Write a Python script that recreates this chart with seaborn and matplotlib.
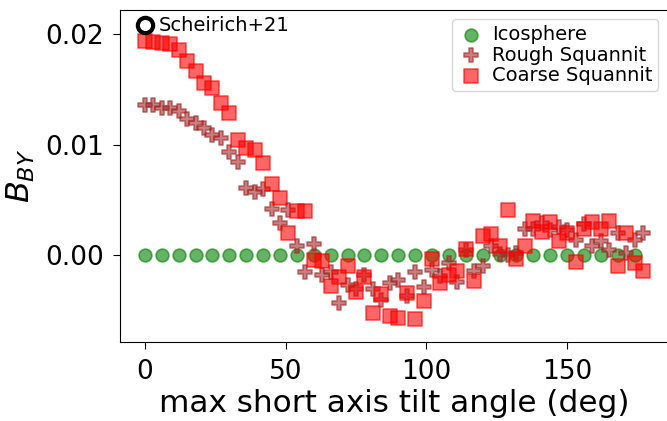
import numpy as np
import pandas as pd
import matplotlib
matplotlib.use("Agg")
import matplotlib.pyplot as plt
import seaborn as sns

# ---- data ----
ico_angle = list(range(0, 175, 6))
ico_b = [0.0] * len(ico_angle)

sq_angle = list(range(0, 178, 3))
rough_b = [0.0136, 0.0136, 0.0133, 0.0133, 0.0130, 0.0123, 0.0120, 0.0115, 0.0109, 0.0106,
           0.0093, 0.0084, 0.0061, 0.0057, 0.0060, 0.0042, 0.0029, 0.0041, 0.0008, -0.0015,
           0.0010, -0.0018, -0.0015, -0.0043, -0.0027, -0.0030, -0.0018, -0.0030, -0.0040, -0.0025,
           -0.0022, -0.0037, -0.0015, -0.0029, -0.0013, -0.0019, -0.0007, -0.0024, 0.0005, -0.0014,
           -0.0010, 0.0008, 0.0001, 0.0000, 0.0002, 0.0024, 0.0024, 0.0029, 0.0023, 0.0026,
           0.0023, 0.0014, 0.0028, 0.0008, 0.0013, 0.0005, 0.0020, 0.0002, 0.0014, 0.0020]
coarse_b = [0.0194, 0.0193, 0.0192, 0.0191, 0.0186, 0.0176, 0.0167, 0.0156, 0.0151, 0.0138,
            0.0129, 0.0104, 0.0097, 0.0095, 0.0083, 0.0064, 0.0052, 0.0020, 0.0040, 0.0040,
            -0.0004, -0.0005, -0.0028, -0.0020, -0.0010, -0.0033, -0.0020, -0.0052, -0.0035, -0.0055,
            -0.0057, -0.0034, -0.0058, -0.0041, -0.0003, -0.0025, -0.0018, -0.0014, 0.0006, -0.0023,
            0.0017, 0.0019, 0.0008, 0.0041, -0.0003, 0.0008, 0.0031, 0.0021, 0.0030, 0.0013,
            0.0020, -0.0006, 0.0024, 0.0030, 0.0024, 0.0031, -0.0010, 0.0020, -0.0007, -0.0014]

ref_angle = [0]
ref_b = [0.0208]
ref_label = "Scheirich+21"

series_labels = ["Icosphere", "Rough Squannit", "Coarse Squannit"]
xlabel = "max short axis tilt angle (deg)"
ylabel = "$B_{BY}$"

# ---- plot ----
fig = plt.figure(figsize=(6.67, 4.21), dpi=100)
ax = fig.add_axes([0.1799, 0.187, 0.8216, 0.79])

df_ico = pd.DataFrame({"angle": ico_angle, "B": ico_b})
df_r = pd.DataFrame({"angle": sq_angle, "B": rough_b})
df_c = pd.DataFrame({"angle": sq_angle, "B": coarse_b})

sns.scatterplot(data=df_ico, x="angle", y="B", ax=ax, marker="o", s=85,
                color="green", edgecolor="green", linewidth=1.2, alpha=0.6,
                label=series_labels[0])
sns.scatterplot(data=df_r, x="angle", y="B", ax=ax, marker="P", s=95,
                color="brown", edgecolor="brown", linewidth=1.2, alpha=0.6,
                label=series_labels[1])
sns.scatterplot(data=df_c, x="angle", y="B", ax=ax, marker="s", s=90,
                color="red", edgecolor="red", linewidth=1.2, alpha=0.6,
                label=series_labels[2])

ax.plot(ref_angle, ref_b, "o", mfc="none", mec="black", mew=3, ms=11, zorder=5)
ax.text(ref_angle[0] + 5, ref_b[0], ref_label, fontsize=14, va="center", ha="left")

ax.set_xlim(-8.85, 185.85)
ax.set_ylim(-0.00786, 0.0222)
ax.set_xticks([0, 50, 100, 150])
ax.set_yticks([0.0, 0.01, 0.02])
ax.set_yticklabels(["0.00", "0.01", "0.02"])
ax.tick_params(labelsize=19, length=4.8, pad=7)
ax.set_xlabel(xlabel, fontsize=22.4, labelpad=3)
ax.set_ylabel(ylabel, fontsize=23, labelpad=6)

ax.legend(loc="upper right", fontsize=14, handlelength=1.3, handletextpad=0.45,
          borderpad=0.3, labelspacing=0.07, borderaxespad=0.5)

fig.savefig("out.png", dpi=100)
